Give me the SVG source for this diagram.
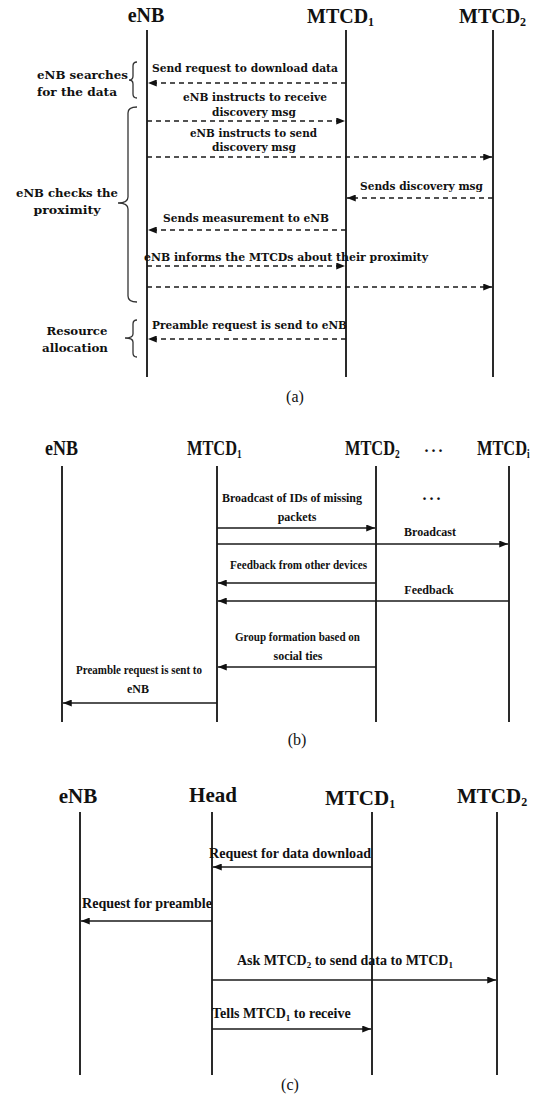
<svg xmlns="http://www.w3.org/2000/svg" width="535" height="1097" viewBox="0 0 535 1097">
<style>
.life{stroke:#2a2a2a;stroke-width:2;fill:none}
.msg{stroke:#1a1a1a;stroke-width:1.6;fill:none;marker-end:url(#ah)}
.dash{stroke-dasharray:5 4}
.brace{stroke:#333;stroke-width:1.3;fill:none}
.ttl{font-family:"Liberation Serif",serif;font-weight:bold;fill:#111}
.la{font-family:"DejaVu Serif","Liberation Serif",serif;font-weight:bold;font-size:11px;fill:#111}
.lb{font-family:"Liberation Serif",serif;font-weight:bold;font-size:12px;fill:#111}
.lc{font-family:"Liberation Serif",serif;font-weight:bold;font-size:14px;fill:#111}
.cap{font-family:"Liberation Serif",serif;font-size:16px;fill:#111;text-anchor:middle}
.mid{text-anchor:middle}
</style>
<defs>
<marker id="ah" viewBox="0 0 10 8" refX="10" refY="4" markerWidth="9" markerHeight="7" markerUnits="userSpaceOnUse" orient="auto">
<path d="M0,0 L10,4 L0,8 z" fill="#111"/>
</marker>
</defs>
<rect width="535" height="1097" fill="#fff"/>

<!-- ===== (a) ===== -->
<g id="a-eNB">
<text class="ttl mid" x="146" y="22" font-size="20">eNB</text>
<line class="life" x1="147" y1="30" x2="147" y2="377"/>
</g>
<g id="a-MTCD1">
<text class="ttl" x="307" y="23" font-size="20">MTCD<tspan font-size="12" dy="3">1</tspan></text>
<line class="life" x1="346" y1="30" x2="346" y2="377"/>
</g>
<g id="a-MTCD2">
<text class="ttl" x="459" y="23" font-size="20">MTCD<tspan font-size="12" dy="3">2</tspan></text>
<line class="life" x1="493" y1="30" x2="493" y2="377"/>
</g>
<g id="a-braces">
<path class="brace" d="M137,62 Q133,62 133,66 L133,76 Q133,80 129,80 Q133,80 133,84 L133,94 Q133,98 137,98"/>
<text class="la" x="37" y="79" textLength="91" lengthAdjust="spacingAndGlyphs">eNB searches</text>
<text class="la" x="37" y="96" textLength="80" lengthAdjust="spacingAndGlyphs">for the data</text>
<path class="brace" d="M137,107 Q128,107 128,113 L128,197 Q128,203 118,203 Q128,203 128,209 L128,296 Q128,302 137,302"/>
<text class="la mid" x="67" y="197" textLength="102" lengthAdjust="spacingAndGlyphs">eNB checks the</text>
<text class="la mid" x="67" y="214" textLength="67" lengthAdjust="spacingAndGlyphs">proximity</text>
<path class="brace" d="M137,320 Q133,320 133,324 L133,334 Q133,338 125,338 Q133,338 133,342 L133,353 Q133,357 137,357"/>
<text class="la mid" x="77" y="335" textLength="61" lengthAdjust="spacingAndGlyphs">Resource</text>
<text class="la mid" x="75" y="352" textLength="66" lengthAdjust="spacingAndGlyphs">allocation</text>
</g>
<g id="a-connectors">
<line class="msg dash" x1="346" y1="83" x2="148" y2="83"/>
<line class="msg dash" x1="147" y1="121" x2="345" y2="121"/>
<line class="msg dash" x1="147" y1="157" x2="492" y2="157"/>
<line class="msg dash" x1="493" y1="198" x2="347" y2="198"/>
<line class="msg dash" x1="346" y1="230" x2="148" y2="230"/>
<line class="msg dash" x1="147" y1="266" x2="345" y2="266"/>
<line class="msg dash" x1="147" y1="287" x2="492" y2="287"/>
<line class="msg dash" x1="346" y1="339" x2="148" y2="339"/>
</g>
<g id="a-labels">
<text class="la" x="152" y="72" textLength="186" lengthAdjust="spacingAndGlyphs">Send request to download data</text>
<text class="la" x="183" y="101" textLength="144" lengthAdjust="spacingAndGlyphs">eNB instructs to receive</text>
<text class="la" x="212" y="116" textLength="84" lengthAdjust="spacingAndGlyphs">discovery msg</text>
<text class="la" x="190" y="137" textLength="127" lengthAdjust="spacingAndGlyphs">eNB instructs to send</text>
<text class="la" x="212" y="151" textLength="84" lengthAdjust="spacingAndGlyphs">discovery msg</text>
<text class="la" x="360" y="190" textLength="123" lengthAdjust="spacingAndGlyphs">Sends discovery msg</text>
<text class="la" x="163" y="222" textLength="166" lengthAdjust="spacingAndGlyphs">Sends measurement to eNB</text>
<text class="la" x="144" y="261" textLength="284" lengthAdjust="spacingAndGlyphs">eNB informs the MTCDs about their proximity</text>
<text class="la" x="152" y="329" textLength="195" lengthAdjust="spacingAndGlyphs">Preamble request is send to eNB</text>
</g>
<text class="cap" x="295" y="402">(a)</text>

<!-- ===== (b) ===== -->
<g id="b-eNB">
<text class="ttl" x="45" y="455" font-size="20" textLength="33" lengthAdjust="spacingAndGlyphs">eNB</text>
<line class="life" x1="62" y1="466" x2="62" y2="722"/>
</g>
<g id="b-MTCD1">
<text class="ttl" x="187" y="455" font-size="21" transform="translate(187,0) scale(0.78,1) translate(-187,0)">MTCD<tspan font-size="12" dy="3">1</tspan></text>
<line class="life" x1="217" y1="466" x2="217" y2="722"/>
</g>
<g id="b-MTCD2">
<text class="ttl" x="345" y="455" font-size="21" transform="translate(345,0) scale(0.78,1) translate(-345,0)">MTCD<tspan font-size="12" dy="3">2</tspan></text>
<line class="life" x1="376" y1="466" x2="376" y2="722"/>
</g>
<text class="ttl mid" x="435" y="452" font-size="16" letter-spacing="3">...</text>
<g id="b-MTCDi">
<text class="ttl" x="477" y="455" font-size="21" transform="translate(477,0) scale(0.78,1) translate(-477,0)">MTCD<tspan font-size="12" dy="3">i</tspan></text>
<line class="life" x1="509" y1="466" x2="509" y2="722"/>
</g>
<g id="b-connectors">
<line class="msg" x1="217" y1="528" x2="375" y2="528"/>
<line class="msg" x1="217" y1="544" x2="508" y2="544"/>
<line class="msg" x1="376" y1="583" x2="218" y2="583"/>
<line class="msg" x1="509" y1="601" x2="218" y2="601"/>
<line class="msg" x1="376" y1="667" x2="218" y2="667"/>
<line class="msg" x1="217" y1="703" x2="63" y2="703"/>
</g>
<g id="b-labels">
<text class="lb" x="222" y="502" textLength="140" lengthAdjust="spacingAndGlyphs">Broadcast of IDs of missing</text>
<text class="lb mid" x="297" y="521">packets</text>
<text class="ttl mid" x="433" y="500" font-size="16" letter-spacing="3">...</text>
<text class="lb mid" x="430" y="536">Broadcast</text>
<text class="lb" x="230" y="569" textLength="137" lengthAdjust="spacingAndGlyphs">Feedback from other devices</text>
<text class="lb mid" x="429" y="594">Feedback</text>
<text class="lb" x="235" y="641" textLength="125" lengthAdjust="spacingAndGlyphs">Group formation based on</text>
<text class="lb mid" x="298" y="660">social ties</text>
<text class="lb" x="76" y="674" textLength="126" lengthAdjust="spacingAndGlyphs">Preamble request is sent to</text>
<text class="lb mid" x="138" y="693">eNB</text>
</g>
<text class="cap" x="297" y="745">(b)</text>

<!-- ===== (c) ===== -->
<g id="c-eNB">
<text class="ttl mid" x="78" y="803" font-size="21">eNB</text>
<line class="life" x1="80" y1="812" x2="80" y2="1075"/>
</g>
<g id="c-Head">
<text class="ttl mid" x="213" y="802" font-size="21">Head</text>
<line class="life" x1="212" y1="812" x2="212" y2="1075"/>
</g>
<g id="c-MTCD1">
<text class="ttl" x="325" y="805" font-size="21">MTCD<tspan font-size="12" dy="3">1</tspan></text>
<line class="life" x1="372" y1="812" x2="372" y2="1075"/>
</g>
<g id="c-MTCD2">
<text class="ttl" x="457" y="803" font-size="21">MTCD<tspan font-size="12" dy="3">2</tspan></text>
<line class="life" x1="497" y1="812" x2="497" y2="1075"/>
</g>
<g id="c-connectors">
<line class="msg" x1="372" y1="867" x2="213" y2="867"/>
<line class="msg" x1="212" y1="921" x2="81" y2="921"/>
<line class="msg" x1="212" y1="980" x2="496" y2="980"/>
<line class="msg" x1="212" y1="1029" x2="371" y2="1029"/>
</g>
<g id="c-labels">
<text class="lc" x="209" y="858" textLength="162" lengthAdjust="spacingAndGlyphs">Request for data download</text>
<text class="lc" x="82" y="908" textLength="130" lengthAdjust="spacingAndGlyphs">Request for preamble</text>
<text class="lc" x="237" y="965">Ask MTCD<tspan font-size="9" dy="3">2</tspan><tspan dy="-3"> to send data to MTCD</tspan><tspan font-size="9" dy="3">1</tspan></text>
<text class="lc" x="212" y="1018">Tells MTCD<tspan font-size="9" dy="3">1</tspan><tspan dy="-3"> to receive</tspan></text>
</g>
<text class="cap" x="290" y="1090">(c)</text>
</svg>
